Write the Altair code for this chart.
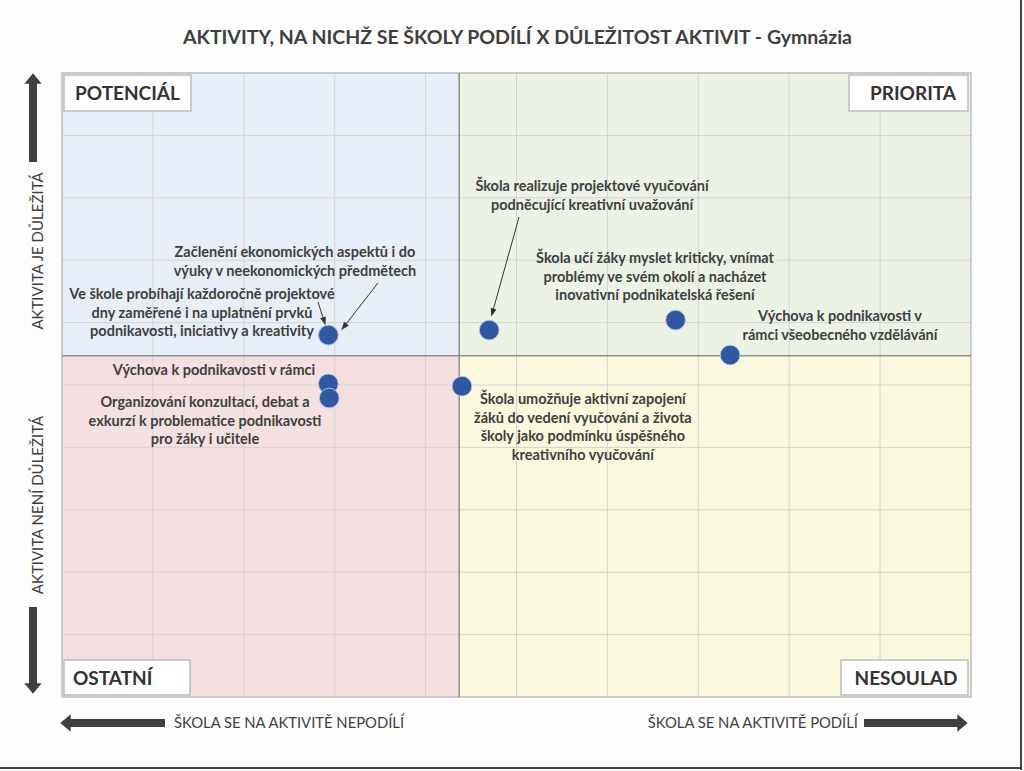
import altair as alt
import pandas as pd

# ---------------- data ----------------
activities = [
    "Ve škole probíhají každoročně projektové dny zaměřené i na uplatnění prvků podnikavosti, iniciativy a kreativity",
    "Začlenění ekonomických aspektů i do výuky v neekonomických předmětech",
    "Škola realizuje projektové vyučování podněcující kreativní uvažování",
    "Škola učí žáky myslet kriticky, vnímat problémy ve svém okolí a nacházet inovativní podnikatelská řešení",
    "Výchova k podnikavosti v rámci všeobecného vzdělávání",
    "Výchova k podnikavosti v rámci",
    "Organizování konzultací, debat a exkurzí k problematice podnikavosti pro žáky i učitele",
    "Škola umožňuje aktivní zapojení žáků do vedení vyučování a života školy jako podmínku úspěšného kreativního vyučování",
]
participation = [2.93, 2.93, 4.70, 6.75, 7.35, 2.93, 2.94, 4.40]
importance = [5.80, 5.80, 5.88, 6.04, 5.48, 5.02, 4.79, 4.98]

label_text = [
    "Ve škole probíhají každoročně projektové\ndny zaměřené i na uplatnění prvků\npodnikavosti, iniciativy a kreativity",
    "Začlenění ekonomických aspektů i do\nvýuky v neekonomických předmětech",
    "Škola realizuje projektové vyučování\npodněcující kreativní uvažování",
    "Škola učí žáky myslet kriticky, vnímat\nproblémy ve svém okolí a nacházet\ninovativní podnikatelská řešení",
    "Výchova k podnikavosti v\nrámci všeobecného vzdělávání",
    "Výchova k podnikavosti v rámci",
    "Organizování konzultací, debat a\nexkurzí k problematice podnikavosti\npro žáky i učitele",
    "Škola umožňuje aktivní zapojení\nžáků do vedení vyučování a života\nškoly jako podmínku úspěšného\nkreativního vyučování",
]

x_split = 4.37
y_split = 5.47
grid_values = [1, 2, 3, 4, 5, 6, 7, 8, 9]

quadrant_names = ["POTENCIÁL", "PRIORITA", "OSTATNÍ", "NESOULAD"]
quadrant_colors = ["#E7EEF8", "#EDF2E7", "#F4DFE1", "#FAF9DD"]

title_text = "AKTIVITY, NA NICHŽ SE ŠKOLY PODÍLÍ X DŮLEŽITOST AKTIVIT - Gymnázia"
y_up_text = "AKTIVITA JE DŮLEŽITÁ"
y_down_text = "AKTIVITA NENÍ DŮLEŽITÁ"
x_left_text = "ŠKOLA SE NA AKTIVITĚ NEPODÍLÍ"
x_right_text = "ŠKOLA SE NA AKTIVITĚ PODÍLÍ"

# ---------------- layout ----------------
W, H = 909, 624
FONT = "Lato"
TXT = "#3F3F3F"
DARK = "#404040"

xs = alt.Scale(domain=[0, 10], nice=False, zero=False)
ys = alt.Scale(domain=[0, 10], nice=False, zero=False)
X = lambda f: alt.X(f, scale=xs, axis=None)
Y = lambda f: alt.Y(f, scale=ys, axis=None)
one = pd.DataFrame({"k": [0]})

quad_df = pd.DataFrame({
    "q": quadrant_names,
    "x": [0, x_split, 0, x_split],
    "x2": [x_split, 10, x_split, 10],
    "y": [y_split, y_split, 0, 0],
    "y2": [10, 10, y_split, y_split],
})
quads = alt.Chart(quad_df).mark_rect().encode(
    x=X("x:Q"), x2="x2", y=Y("y:Q"), y2="y2",
    color=alt.Color("q:N", scale=alt.Scale(domain=quadrant_names, range=quadrant_colors), legend=None),
)

grid_df = pd.DataFrame({"v": grid_values})
vgrid = alt.Chart(grid_df).mark_rule(color="#D3D3D3", strokeWidth=1).encode(
    x=X("v:Q"), y=alt.value(0), y2=alt.value(H))
hgrid = alt.Chart(grid_df).mark_rule(color="#D3D3D3", strokeWidth=1).encode(
    y=Y("v:Q"), x=alt.value(0), x2=alt.value(W))

border = alt.Chart(one).mark_rect(filled=False, stroke="#BDBDBD", strokeWidth=1.5).encode(
    x=alt.value(0), x2=alt.value(W), y=alt.value(0), y2=alt.value(H))

split_df = pd.DataFrame({"xs": [x_split], "ys": [y_split]})
vsplit = alt.Chart(split_df).mark_rule(color="#8E8E8E", strokeWidth=1.5).encode(
    x=X("xs:Q"), y=alt.value(0), y2=alt.value(H))
hsplit = alt.Chart(split_df).mark_rule(color="#8E8E8E", strokeWidth=1.5).encode(
    y=Y("ys:Q"), x=alt.value(0), x2=alt.value(W))

# annotation arrows (label -> point)
arrow_df = pd.DataFrame({
    "x": [2.816, 3.476, 5.028],
    "y": [6.330, 6.635, 7.692],
    "x2": [2.885, 3.100, 4.735],
    "y2": [6.02, 5.93, 6.16],
    "ang": [162, 218, 196],
})
arrow_lines = alt.Chart(arrow_df).mark_rule(color="#333333", strokeWidth=1).encode(
    x=X("x:Q"), y=Y("y:Q"), x2="x2", y2="y2")
arrow_heads = alt.Chart(arrow_df).mark_point(
    shape="M0,-1L0.7,1L-0.7,1Z", filled=True, size=70, color="#333333", opacity=1).encode(
    x=X("x2:Q"), y=Y("y2:Q"), angle=alt.Angle("ang:Q", scale=None))

pts_df = pd.DataFrame({"activity": activities, "x": participation, "y": importance})
points = alt.Chart(pts_df).mark_circle(
    size=390, color="#2F58A0", opacity=1, stroke="#B4C2E0", strokeWidth=1).encode(
    x=X("x:Q"), y=Y("y:Q"), tooltip="activity:N")

# label anchors = centre of the first line of each label
lab_df = pd.DataFrame({
    "t": label_text,
    "lx": [1.540, 2.563, 5.831, 6.524, 8.559, 1.672, 1.573, 5.730],
    "ly": [6.442, 7.115, 8.173, 7.019, 6.090, 5.224, 4.712, 4.760],
})
labels = alt.Chart(lab_df).mark_text(
    font=FONT, fontSize=14.5, fontWeight="bold", color=TXT, lineHeight=18.7,
    align="center", baseline="middle", lineBreak="\n").encode(
    x=X("lx:Q"), y=Y("ly:Q"), text="t:N")

# quadrant name boxes
def corner(name, x0, x1, y0, y1, tx, align):
    box = alt.Chart(one).mark_rect(fill="white", stroke="#BDBDBD", strokeWidth=1.5).encode(
        x=alt.value(x0), x2=alt.value(x1), y=alt.value(y0), y2=alt.value(y1))
    txt = alt.Chart(one).mark_text(
        text=name, font=FONT, fontSize=19, fontWeight="bold", color="#333333",
        align=align, baseline="middle").encode(
        x=alt.value(tx), y=alt.value((y0 + y1) / 2 + 1))
    return box + txt

corners = (
    corner(quadrant_names[0], 2, 129, 2, 38, 13, "left")
    + corner(quadrant_names[1], 787, 906, 2, 38, 851, "center")
    + corner(quadrant_names[2], 2, 128, 587, 622, 11, "left")
    + corner(quadrant_names[3], 779, 906, 587, 622, 844, "center")
)

title = alt.Chart(one).mark_text(
    text=title_text, font=FONT, fontSize=19.5, fontWeight="bold", color=TXT,
    align="center", baseline="middle").encode(x=alt.value(W / 2 + 1), y=alt.value(-35))

side_up = alt.Chart(one).mark_text(
    text=y_up_text, font=FONT, fontSize=15, color=TXT, angle=270,
    align="center", baseline="middle").encode(x=alt.value(-24), y=alt.value(178))
side_down = alt.Chart(one).mark_text(
    text=y_down_text, font=FONT, fontSize=15, color=TXT, angle=270,
    align="center", baseline="middle").encode(x=alt.value(-24), y=alt.value(432))

bottom_left = alt.Chart(one).mark_text(
    text=x_left_text, font=FONT, fontSize=14.8, color=TXT,
    align="left", baseline="middle").encode(x=alt.value(112), y=alt.value(651))
bottom_right = alt.Chart(one).mark_text(
    text=x_right_text, font=FONT, fontSize=14.8, color=TXT,
    align="right", baseline="middle").encode(x=alt.value(796), y=alt.value(651))

HEAD = "M0,-0.6L1,0.6L-1,0.6Z"

def shaft(xa, xb, ya, yb):
    return alt.Chart(one).mark_rule(color=DARK, strokeWidth=8).encode(
        x=alt.value(xa), x2=alt.value(xb), y=alt.value(ya), y2=alt.value(yb))

def head(cx, cy, ang):
    return alt.Chart(one).mark_point(
        shape=HEAD, filled=True, size=300, color=DARK, opacity=1, angle=ang).encode(
        x=alt.value(cx), y=alt.value(cy))

big_arrows = (
    shaft(-29, -29, 9, 89) + head(-29, 5.5, 0)
    + shaft(-29, -29, 534, 612) + head(-29, 615.5, 180)
    + shaft(8, 103, 650, 650) + head(3.5, 650, 270)
    + shaft(802, 896, 650, 650) + head(900.5, 650, 90)
)

frame = (
    alt.Chart(one).mark_rule(color="#444444", strokeWidth=2).encode(
        x=alt.value(959), y=alt.value(-73), y2=alt.value(697))
    + alt.Chart(one).mark_rule(color="#444444", strokeWidth=2).encode(
        x=alt.value(-62), x2=alt.value(960), y=alt.value(695))
)

chart = alt.layer(
    quads, vgrid, hgrid, border, vsplit, hsplit,
    arrow_lines, arrow_heads, points, labels,
    corners, title, side_up, side_down, bottom_left, bottom_right, big_arrows, frame,
).properties(
    width=W, height=H,
    autosize=alt.AutoSizeParams(type="none"),
    padding={"left": 62, "top": 73, "right": 53, "bottom": 74},
    background="#FDFDFD",
).configure_view(stroke=None)

chart.save("out.html", embed_options={"renderer": "svg", "actions": False})
